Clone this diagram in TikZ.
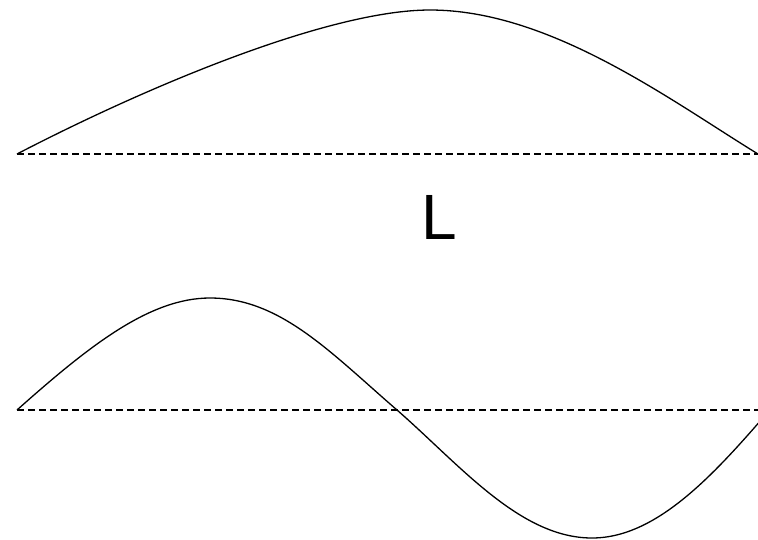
\documentclass[tikz,border=0pt]{standalone}
\usepackage{fontspec}
\setmainfont{Liberation Sans}
\tikzset{
  wave/.style={line width=1.3pt, line join=round},
  axisline/.style={line width=1.3pt, dash pattern=on 7pt off 4pt},
  lbl/.style={font=\fontsize{64}{64}\selectfont, inner sep=0pt, anchor=base}
}
\begin{document}
\begin{tikzpicture}[x=1pt,y=-1pt]
\useasboundingbox (0,0) rectangle (758,539);
\clip (0,0) rectangle (758,539);
% top
\coordinate (t0) at (17,154);
\coordinate (t1) at (758,154);
\draw[axisline] (t0) -- (t1);
\draw[wave] (t0) .. controls (150,85) and (330,10) .. (430,10)
  .. controls (550,10) and (670,100) .. (t1);
% label
\node[lbl] (L) at (439,239) {L};
% bottom
\coordinate (b0) at (17,410);
\coordinate (b1) at (758,410);
\draw[axisline] (b0) -- (b1);
\draw[wave] (b0) .. controls (90,345) and (150,298) .. (210,298)
  .. controls (280,298) and (330,352) .. (397,410)
  .. controls (460,465) and (520,538) .. (592,538)
  .. controls (660,538) and (720,468) .. (780,398);
\end{tikzpicture}
\end{document}
